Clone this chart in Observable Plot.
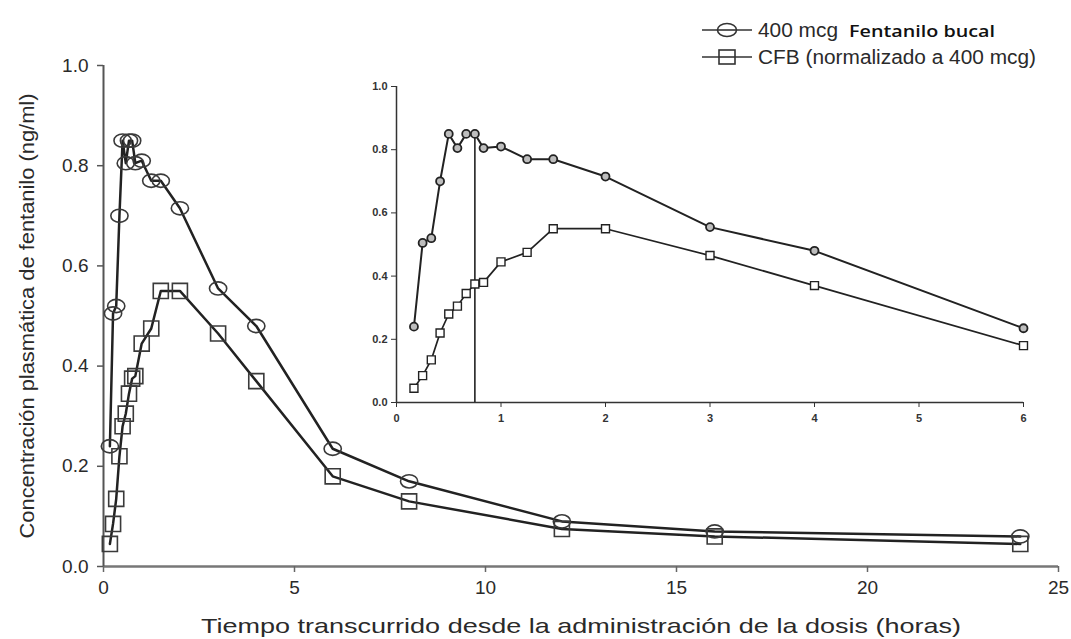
<!DOCTYPE html>
<html>
<head>
<meta charset="utf-8">
<script src="https://cdn.jsdelivr.net/npm/d3@7"></script>
<script src="https://cdn.jsdelivr.net/npm/@observablehq/plot@0.6"></script>
<style>
  html, body { margin: 0; padding: 0; background: #fff; }
  #wrap { position: relative; width: 1071px; height: 639px; overflow: hidden; }
  #main, #inset, #legend { position: absolute; }
  #main { left: 0; top: 0; }
  #inset { left: 346px; top: 76px; }
  #legend { left: 690px; top: 0; }
</style>
</head>
<body>
<div id="wrap">
  <div id="main"></div>
  <div id="inset"></div>
  <div id="legend"></div>
</div>
<script>
// ---- Data ----
const times = [0.167, 0.25, 0.333, 0.417, 0.5, 0.583, 0.667, 0.75, 0.833, 1, 1.25, 1.5, 2, 3, 4, 6, 8, 12, 16, 24];
const bucal = [0.24, 0.505, 0.52, 0.70, 0.85, 0.805, 0.85, 0.85, 0.805, 0.81, 0.77, 0.77, 0.715, 0.555, 0.48, 0.235, 0.17, 0.09, 0.07, 0.06];
const cfb   = [0.045, 0.085, 0.135, 0.22, 0.28, 0.305, 0.345, 0.375, 0.38, 0.445, 0.475, 0.55, 0.55, 0.465, 0.37, 0.18, 0.13, 0.075, 0.06, 0.045];
const legendLabels = [["400 mcg ", "Fentanilo bucal"], ["CFB (normalizado a 400 mcg)", ""]];
const mainXTicks = [0, 5, 10, 15, 20, 25];
const mainYTicks = [0, 0.2, 0.4, 0.6, 0.8, 1.0];
const insetXTicks = [0, 1, 2, 3, 4, 5, 6];
const insetYTicks = [0, 0.2, 0.4, 0.6, 0.8, 1.0];
const insetMaxTime = 6;
const tmax = [{t: 0.75, c: 0.85}];
const xLabel = "Tiempo transcurrido desde la administración de la dosis (horas)";
const yLabel = "Concentración plasmática de fentanilo (ng/ml)";

const bucalData = times.map((t, i) => ({t, c: bucal[i]}));
const cfbData = times.map((t, i) => ({t, c: cfb[i]}));
const fmt1 = d3.format(".1f");
const fmt0 = d3.format("d");
const sans = '"Liberation Sans", Arial, sans-serif';

// slightly flattened ellipse symbol (as in the scanned figure)
const ellipse = {
  draw(ctx, size) {
    const r = Math.sqrt(size / Math.PI), rx = r * 1.15, ry = r * 0.88, k = 0.5523;
    ctx.moveTo(rx, 0);
    ctx.bezierCurveTo(rx, ry * k, rx * k, ry, 0, ry);
    ctx.bezierCurveTo(-rx * k, ry, -rx, ry * k, -rx, 0);
    ctx.bezierCurveTo(-rx, -ry * k, -rx * k, -ry, 0, -ry);
    ctx.bezierCurveTo(rx * k, -ry, rx, -ry * k, rx, 0);
    ctx.closePath();
  }
};

// ---- Main chart ----
const main = Plot.plot({
  width: 1071,
  height: 639,
  marginLeft: 103,
  marginRight: 13,
  marginTop: 65,
  marginBottom: 73,
  x: {domain: [0, 25]},
  y: {domain: [0, 1]},
  style: {fontFamily: sans, fontSize: "19px", color: "#2a2a2a", background: "transparent"},
  marks: [
    Plot.ruleY([0], {stroke: "#777", strokeWidth: 2.5}),
    Plot.ruleX([0], {stroke: "#555", strokeWidth: 2}),
    Plot.axisX({ticks: mainXTicks, tickFormat: fmt0, tickSize: 6, tickPadding: 8, stroke: "#666", strokeWidth: 1.5,
      label: xLabel, labelAnchor: "center", labelArrow: "none", labelOffset: 66, fontSize: 19}),
    Plot.axisY({ticks: mainYTicks, tickFormat: fmt1, tickSize: 6, tickPadding: 9, stroke: "#555", strokeWidth: 1.5,
      label: yLabel, labelAnchor: "center", labelArrow: "none", labelOffset: 84, fontSize: 19}),
    Plot.line(bucalData, {x: "t", y: "c", stroke: "#222", strokeWidth: 2.5}),
    Plot.line(cfbData, {x: "t", y: "c", stroke: "#222", strokeWidth: 2.5}),
    Plot.dot(bucalData, {x: "t", y: "c", symbol: ellipse, r: 7.5, stroke: "#3a3a3a", strokeWidth: 1.6, fill: "none"}),
    Plot.dot(cfbData, {x: "t", y: "c", symbol: "square", r: 8.5, stroke: "#3a3a3a", strokeWidth: 1.6, fill: "none"})
  ]
});
document.getElementById("main").appendChild(main);
// fit axis titles to the widths seen in the figure
d3.select(main).selectAll('g[aria-label="x-axis label"] text')
  .attr("font-size", 21).attr("textLength", 760).attr("lengthAdjust", "spacingAndGlyphs");
d3.select(main).selectAll('g[aria-label="y-axis label"] text')
  .attr("font-size", 20).attr("textLength", 445).attr("lengthAdjust", "spacingAndGlyphs");

// ---- Inset chart (first 6 hours) ----
const inBucal = bucalData.filter(d => d.t <= insetMaxTime);
const inCfb = cfbData.filter(d => d.t <= insetMaxTime);
const inset = Plot.plot({
  width: 690,
  height: 360,
  marginLeft: 50,
  marginRight: 13,
  marginTop: 10,
  marginBottom: 34,
  x: {domain: [0, insetMaxTime]},
  y: {domain: [0, 1]},
  style: {fontFamily: sans, fontSize: "11px", fontWeight: "bold", color: "#333", background: "transparent"},
  marks: [
    Plot.ruleY([0], {stroke: "#333", strokeWidth: 1.5}),
    Plot.ruleX([0], {stroke: "#333", strokeWidth: 1.5}),
    Plot.axisX({ticks: insetXTicks, tickFormat: fmt0, tickSize: 5, tickPadding: 7, stroke: "#333", label: null}),
    Plot.axisY({ticks: insetYTicks, tickFormat: fmt1, tickSize: 5, tickPadding: 4, stroke: "#333", label: null}),
    Plot.ruleX(tmax, {x: "t", y1: 0, y2: "c", stroke: "#222", strokeWidth: 1.6}),
    Plot.line(inBucal, {x: "t", y: "c", stroke: "#222", strokeWidth: 2}),
    Plot.line(inCfb, {x: "t", y: "c", stroke: "#222", strokeWidth: 1.7}),
    Plot.dot(inBucal, {x: "t", y: "c", symbol: "circle", r: 4, stroke: "#222", strokeWidth: 1.8, fill: "#bdbdbd"}),
    Plot.dot(inCfb, {x: "t", y: "c", symbol: "square", r: 4.5, stroke: "#222", strokeWidth: 1.4, fill: "#fff"})
  ]
});
document.getElementById("inset").appendChild(inset);

// ---- Legend ----
const NS = "http://www.w3.org/2000/svg";
const lg = d3.select("#legend").append("svg").attr("width", 381).attr("height", 75);
const rows = [
  {y: 30, base: 37, sym: "ellipse", parts: [
    {text: legendLabels[0][0], x: 68, len: 80, font: sans, size: 20, weight: "normal", color: "#2a2a2a"},
    {text: legendLabels[0][1], x: 159, len: 146, font: '"Open Sans", "Noto Sans", sans-serif', size: 17, weight: 600, color: "#111"}]},
  {y: 57, base: 64, sym: "square", parts: [
    {text: legendLabels[1][0], x: 68, len: 278, font: sans, size: 20, weight: "normal", color: "#2a2a2a"}]}
];
rows.forEach(r => {
  lg.append("line").attr("x1", 12).attr("x2", 62).attr("y1", r.y).attr("y2", r.y).attr("stroke", "#333").attr("stroke-width", 1.6);
  if (r.sym === "ellipse") {
    lg.append("ellipse").attr("cx", 37).attr("cy", r.y).attr("rx", 9.5).attr("ry", 6.5).attr("fill", "#fff").attr("stroke", "#333").attr("stroke-width", 1.6);
    lg.append("line").attr("x1", 27.5).attr("x2", 46.5).attr("y1", r.y).attr("y2", r.y).attr("stroke", "#333").attr("stroke-width", 1.6);
  } else {
    lg.append("rect").attr("x", 29).attr("y", r.y - 7).attr("width", 16).attr("height", 14).attr("fill", "#fff").attr("stroke", "#333").attr("stroke-width", 1.6);
    lg.append("line").attr("x1", 29).attr("x2", 45).attr("y1", r.y).attr("y2", r.y).attr("stroke", "#333").attr("stroke-width", 1.6);
  }
  r.parts.forEach(p => {
    lg.append("text").attr("x", p.x).attr("y", r.base).attr("font-family", p.font).attr("font-size", p.size)
      .attr("font-weight", p.weight).attr("fill", p.color)
      .attr("textLength", p.len).attr("lengthAdjust", "spacingAndGlyphs").text(p.text);
  });
});
</script>
</body>
</html>
